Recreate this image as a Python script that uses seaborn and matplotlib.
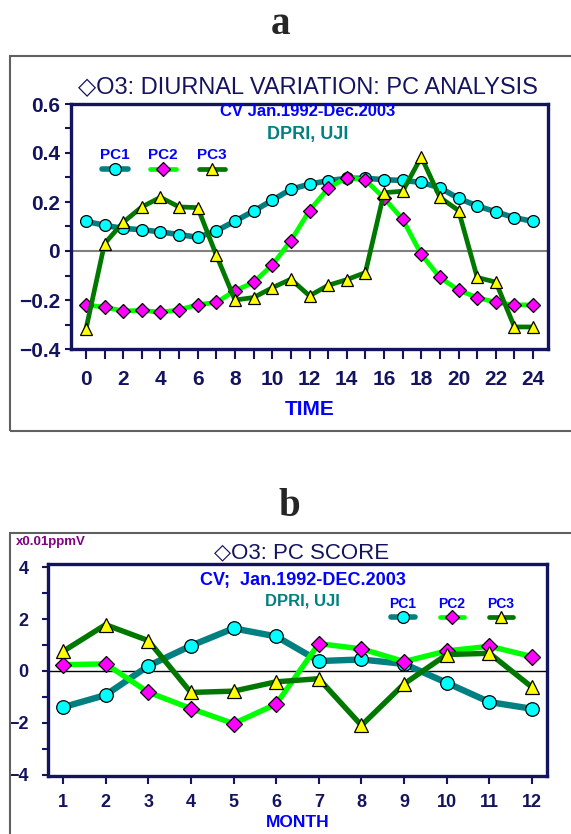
import numpy as np
import pandas as pd
import matplotlib
matplotlib.use("Agg")
import matplotlib.pyplot as plt
import seaborn as sns
from matplotlib.lines import Line2D
from matplotlib.patches import Rectangle
from matplotlib.ticker import MultipleLocator, FuncFormatter

# ---- data ----
hours = list(range(25))
pc1_diurnal = [0.121, 0.105, 0.092, 0.087, 0.078, 0.067, 0.056, 0.082, 0.122, 0.163,
               0.207, 0.252, 0.273, 0.287, 0.297, 0.297, 0.291, 0.288, 0.280, 0.258,
               0.215, 0.184, 0.160, 0.136, 0.121]
pc2_diurnal = [-0.220, -0.229, -0.245, -0.242, -0.250, -0.240, -0.219, -0.210, -0.162, -0.128,
               -0.057, 0.042, 0.165, 0.256, 0.300, 0.290, 0.216, 0.129, -0.014, -0.108,
               -0.160, -0.190, -0.210, -0.220, -0.220]
pc3_diurnal = [-0.320, 0.030, 0.117, 0.180, 0.219, 0.180, 0.177, -0.017, -0.200, -0.190,
               -0.150, -0.115, -0.183, -0.140, -0.117, -0.088, 0.238, 0.244, 0.384, 0.219,
               0.165, -0.108, -0.127, -0.310, -0.310]

months = list(range(1, 13))
pc1_score = [-1.40, -0.93, 0.19, 0.97, 1.64, 1.33, 0.38, 0.44, 0.27, -0.46, -1.20, -1.46]
pc2_score = [0.24, 0.27, -0.82, -1.45, -2.03, -1.28, 1.05, 0.85, 0.36, 0.77, 0.95, 0.55]
pc3_score = [0.75, 1.78, 1.17, -0.83, -0.78, -0.42, -0.30, -2.10, -0.50, 0.63, 0.68, -0.63]

series_names = ["PC1", "PC2", "PC3"]

# ---- styling ----
sns.set_theme(style="white")
plt.rcParams["font.family"] = ["Liberation Sans Narrow", "Liberation Sans", "DejaVu Sans"]
plt.rcParams["font.weight"] = "bold"
plt.rcParams["axes.unicode_minus"] = True

NAVY = "#14145e"
BLUE = "#0000ff"
TEAL = "#008080"
styles = {
    "PC1": dict(color="#008080", marker="o", markerfacecolor="#00ffff", markersize=8.5, linewidth=4.0),
    "PC2": dict(color="#00ff00", marker="D", markerfacecolor="#ff00ff", markersize=7, linewidth=3.4),
    "PC3": dict(color="#007800", marker="^", markerfacecolor="#ffff00", markersize=9, linewidth=3.4),
}

W, H = 571, 834
fig = plt.figure(figsize=(W / 100, H / 100), dpi=100)


def fx(px):
    return px / W


def fy(py):
    return 1 - py / H


def minus(s):
    return s.replace("-", "\u2212")


# outer frames
fig.add_artist(Rectangle((fx(10), fy(431)), 1.2, fy(56) - fy(431), transform=fig.transFigure,
                         fill=False, edgecolor="#606060", linewidth=1.5))
fig.add_artist(Rectangle((fx(10), -0.2), 1.2, fy(533) + 0.2, transform=fig.transFigure,
                         fill=False, edgecolor="#606060", linewidth=1.5))

fig.text(fx(280), fy(24), "a", ha="center", va="center", fontsize=28,
         family=["Liberation Serif", "DejaVu Serif"], weight="bold")
fig.text(fx(289), fy(507), "b", ha="center", va="center", fontsize=28,
         family=["Liberation Serif", "DejaVu Serif"], weight="bold")


def style_axes(ax):
    for sp in ax.spines.values():
        sp.set_color(NAVY)
        sp.set_linewidth(2.4)
    ax.tick_params(which="both", direction="out", bottom=True, left=True, colors=NAVY,
                   width=1.5)
    ax.set_facecolor("white")


def draw_series(ax, x, ys, scale=1.0):
    for name, y in zip(series_names, ys):
        st = dict(styles[name])
        st["markersize"] *= scale
        st["linewidth"] *= scale
        sns.lineplot(x=x, y=y, ax=ax, markeredgecolor="black", markeredgewidth=0.9,
                     clip_on=False, zorder=3, **st)


def draw_legend(label_y, line_y, centers, half, fs):
    for name, cx in zip(series_names, centers):
        st = styles[name]
        fig.text(fx(cx), fy(label_y), name, ha="center", va="center", color=BLUE,
                 fontsize=fs, weight="bold")
        fig.add_artist(Line2D([fx(cx - half), fx(cx + half)], [fy(line_y), fy(line_y)],
                              transform=fig.transFigure, color=st["color"],
                              linewidth=st["linewidth"]))
        fig.add_artist(Line2D([fx(cx)], [fy(line_y)], transform=fig.transFigure,
                              marker=st["marker"], markerfacecolor=st["markerfacecolor"],
                              markeredgecolor="black", markeredgewidth=0.9,
                              markersize=st["markersize"], linestyle="none"))


# ---- panel a: diurnal variation ----
ax1 = fig.add_axes([fx(71), fy(349), fx(548) - fx(71), fy(104) - fy(349)])
style_axes(ax1)
ax1.axhline(0, color="#808080", linewidth=1.5, zorder=1)
draw_series(ax1, hours, [pc1_diurnal, pc2_diurnal, pc3_diurnal])
ax1.set_xlim(-0.8, 24.8)
ax1.set_ylim(-0.4, 0.6)
ax1.xaxis.set_major_locator(MultipleLocator(2))
ax1.xaxis.set_minor_locator(MultipleLocator(1))
ax1.yaxis.set_major_locator(MultipleLocator(0.2))
ax1.yaxis.set_minor_locator(MultipleLocator(0.1))
ax1.yaxis.set_major_formatter(FuncFormatter(lambda v, p: "0" if abs(v) < 1e-9 else minus(f"{v:.1f}")))
ax1.tick_params(axis="x", which="both", length=7, pad=8, labelsize=15)
ax1.tick_params(axis="y", which="both", length=4, pad=4, labelsize=15)
ax1.set_xlabel("TIME", color=BLUE, fontsize=15, weight="bold", labelpad=8)
ax1.set_ylabel("")

fig.text(fx(308), fy(87), "\u25c7O3: DIURNAL VARIATION: PC ANALYSIS", ha="center", va="center",
         color=NAVY, fontsize=17, weight="normal")
fig.text(fx(308), fy(112), "CV Jan.1992-Dec.2003", ha="center", va="center", color=BLUE,
         fontsize=12, weight="bold")
fig.text(fx(308), fy(134), "DPRI, UJI", ha="center", va="center", color=TEAL,
         fontsize=13, weight="bold")
draw_legend(155, 169, [115, 163, 212], 13, 11)

# ---- panel b: PC score ----
ax2 = fig.add_axes([fx(48), fy(776), fx(547) - fx(48), fy(564) - fy(776)])
style_axes(ax2)
ax2.axhline(0, color="black", linewidth=1.0, zorder=1)
draw_series(ax2, months, [pc1_score, pc2_score, pc3_score], scale=1.15)
ax2.set_xlim(0.65, 12.35)
ax2.set_ylim(-4.05, 4.12)
ax2.xaxis.set_major_locator(MultipleLocator(1))
ax2.yaxis.set_major_locator(MultipleLocator(2))
ax2.yaxis.set_minor_locator(MultipleLocator(1))
ax2.yaxis.set_major_formatter(FuncFormatter(lambda v, p: minus(f"{v:.0f}")))
for lbl_axis in ("x", "y"):
    ax2.tick_params(axis=lbl_axis, which="both", labelsize=13, labelfontfamily="Liberation Sans")
ax2.tick_params(axis="x", which="both", length=6, pad=7)
ax2.tick_params(axis="y", which="both", length=4, pad=10)
ax2.set_xlabel("MONTH", color=BLUE, fontsize=12.5, weight="bold", labelpad=3,
               family=["Liberation Sans", "DejaVu Sans"])
ax2.set_ylabel("")

fig.text(fx(51), fy(542), "x0.01ppmV", ha="center", va="center", color="#800080",
         fontsize=9.5, weight="bold", family=["Liberation Sans", "DejaVu Sans"])
fig.text(fx(302), fy(553), "\u25c7O3: PC SCORE", ha="center", va="center", color=NAVY,
         fontsize=16, weight="normal", family=["Liberation Sans", "DejaVu Sans"])
fig.text(fx(303), fy(581), "CV;  Jan.1992-DEC.2003", ha="center", va="center", color=BLUE,
         fontsize=13, weight="bold", family=["Liberation Sans", "DejaVu Sans"])
fig.text(fx(302), fy(601), "DPRI, UJI", ha="center", va="center", color=TEAL,
         fontsize=12, weight="bold", family=["Liberation Sans", "DejaVu Sans"])
draw_legend(604, 617, [403, 452, 501], 12, 10)

fig.savefig("out.png", dpi=100)
plt.close(fig)
